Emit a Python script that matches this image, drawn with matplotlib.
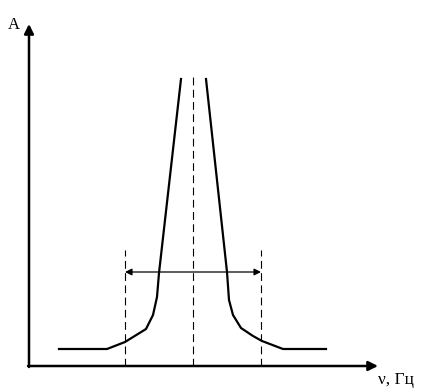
import matplotlib.pyplot as plt

# curve data (frequency, amplitude), arbitrary units
freq_left = [30, 78, 96, 117, 124, 128, 130, 152]
amp_left = [17, 17, 24, 37, 51, 69, 93, 287]
freq_right = [177, 198, 200, 204, 212, 224, 233, 254, 297]
amp_right = [287, 94, 66, 51, 38, 30, 25, 17, 17]

f_center = 164
f_low = 96
f_high = 232
amp_center_top = 289
amp_side_top = 116
amp_width = 94

plt.rcParams['font.family'] = ['Liberation Serif', 'DejaVu Serif']

fig = plt.figure(figsize=(4.24, 3.92), dpi=100)
ax = fig.add_axes([0, 0, 1, 1])
ax.set_xlim(-29, 395)
ax.set_ylim(-26, 366)
ax.axis('off')

# axes with arrows
ax.annotate('', xy=(0, 342), xytext=(0, -1),
            arrowprops=dict(arrowstyle='-|>', lw=1.8, color='black', mutation_scale=14,
                            shrinkA=0, shrinkB=0))
ax.annotate('', xy=(349, 0), xytext=(-1, 0),
            arrowprops=dict(arrowstyle='-|>', lw=1.8, color='black', mutation_scale=14,
                            shrinkA=0, shrinkB=0))

ax.plot(freq_left, amp_left, color='black', lw=1.6)
ax.plot(freq_right, amp_right, color='black', lw=1.6)

ax.plot([f_center, f_center], [0, amp_center_top], color='black', lw=0.8, linestyle=(0, (7, 4)))
ax.plot([f_low, f_low], [0, amp_side_top], color='black', lw=0.8, linestyle=(0, (7, 4)))
ax.plot([f_high, f_high], [0, amp_side_top], color='black', lw=0.8, linestyle=(0, (7, 4)))

ax.annotate('', xy=(f_low, amp_width), xytext=(f_high, amp_width),
            arrowprops=dict(arrowstyle='<|-|>', lw=0.9, color='black', mutation_scale=10,
                            shrinkA=0, shrinkB=0))

ax.text(-15, 341, 'A', fontsize=12, ha='center', va='center')
ax.text(367, -14, 'ν, Гц', fontsize=12.5, ha='center', va='center')

fig.savefig('out.png', dpi=100)
